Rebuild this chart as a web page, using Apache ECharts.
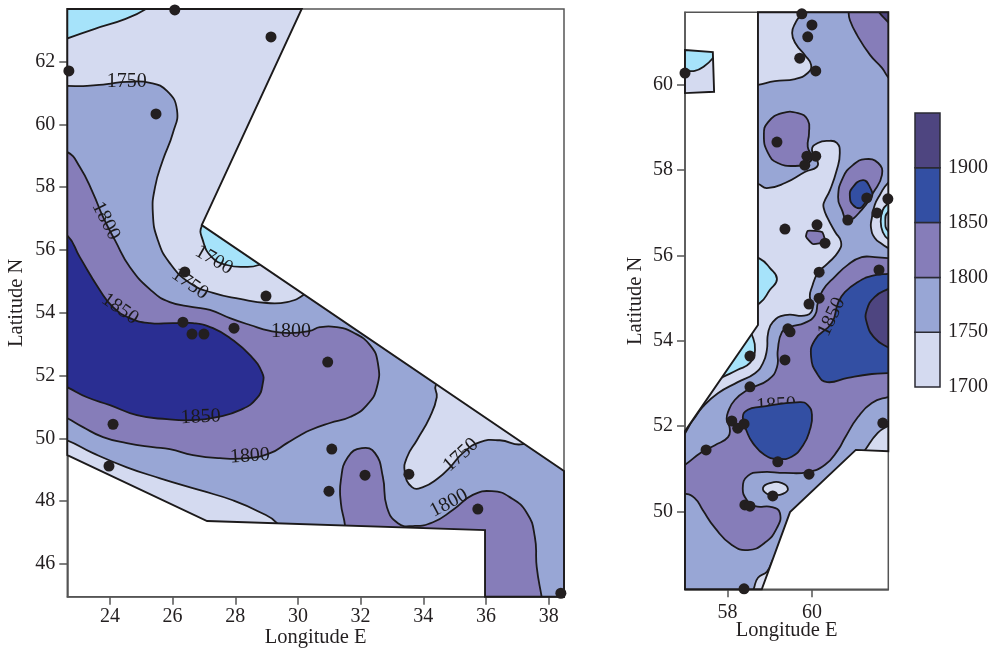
<!DOCTYPE html>
<html><head><meta charset="utf-8">
<style>html,body{margin:0;padding:0;background:#fff}#c{width:994px;height:648px}</style>
<script src="https://cdn.jsdelivr.net/npm/echarts@6/dist/echarts.min.js"></script>
</head><body><div id="c"></div>
<script>
const xTicksL=[24,26,28,30,32,34,36,38], yTicksL=[46,48,50,52,54,56,58,60,62];
const xTicksR=[58,60], yTicksR=[50,52,54,56,58,60];
const legendBreaks=[1700,1750,1800,1850,1900,1950], legendLabels=[1700,1750,1800,1850,1900];

const domainL=[[22.64,63.67],[30.12,63.67],[26.93,56.79],[38.49,48.96],[38.49,44.96],[35.97,44.96],[35.97,47.08],[27.10,47.37],[22.64,49.47]];
const domainR=[[58.72,61.705],[61.81,61.705],[61.81,51.41],[61.04,51.44],[59.48,49.98],[58.81,48.17],[56.99,48.17],[56.99,51.88],[58.72,54.37]];
const domainI=[[56.99,60.82],[57.65,60.77],[57.68,59.84],[56.99,59.81]];

const lCyanTop=[[22.09,62.56],[22.63,62.73],[23.52,63.04],[24.48,63.35],[25.15,63.67],[25.60,64.05],[22.09,64.12]];
const lCyanSouth=[[26.93,56.76],[26.96,56.32],[27.25,55.77],[27.73,55.52],[28.37,55.46],[28.75,55.52],[29.17,55.74],[27.99,57.27],[27.35,57.21]];
const lBand1750=[[22.09,61.22],[22.63,61.22],[23.27,61.22],[23.90,61.28],[24.54,61.35],[25.28,61.32],[25.82,61.06],[26.14,60.46],[26.01,59.72],[25.69,58.86],[25.44,58.00],[25.37,57.17],[25.53,56.31],[25.91,55.58],[26.55,54.95],[27.29,54.63],[28.15,54.44],[29.01,54.31],[29.65,54.34],[30.16,54.56],[30.70,55.04],[39.63,48.67],[40.27,43.58],[29.58,46.76],[29.33,47.30],[28.79,47.65],[27.92,48.03],[26.87,48.35],[25.60,48.73],[24.54,49.08],[23.46,49.53],[22.63,49.94],[22.09,50.07]];
const lLightEast=[[34.40,51.70],[34.43,51.31],[34.21,50.68],[33.80,49.95],[33.48,49.40],[33.41,48.93],[33.64,48.45],[33.99,48.45],[34.47,48.73],[34.85,49.08],[35.26,49.53],[35.81,49.88],[36.44,49.94],[37.18,49.82],[37.88,50.26],[34.85,52.17]];
const lBand1800=[[22.09,59.12],[22.63,59.12],[23.04,58.64],[23.46,57.81],[23.78,57.05],[24.16,56.31],[24.64,55.45],[25.34,54.69],[25.91,54.34],[26.65,54.18],[27.19,54.09],[27.83,53.83],[28.47,53.61],[29.11,53.42],[29.74,53.35],[30.38,53.42],[30.70,53.54],[31.24,53.54],[31.75,53.38],[32.30,52.97],[32.55,52.40],[32.52,51.63],[32.20,51.06],[31.66,50.68],[31.02,50.49],[30.38,50.26],[30.06,50.09],[29.65,49.85],[29.11,49.53],[28.37,49.37],[27.51,49.37],[26.65,49.47],[25.91,49.66],[25.37,49.72],[24.54,49.85],[23.78,50.04],[23.14,50.36],[22.63,50.65],[22.09,50.90]];
const lBand1850=[[22.09,56.70],[22.63,56.47],[23.04,55.77],[23.68,54.72],[24.10,54.18],[24.64,53.83],[25.28,53.67],[26.01,53.67],[26.65,53.67],[27.29,53.51],[27.92,53.13],[28.47,52.65],[28.85,52.11],[28.88,51.76],[28.69,51.28],[28.15,50.90],[27.41,50.68],[26.65,50.58],[25.82,50.61],[24.86,50.74],[24.00,51.06],[23.27,51.31],[22.63,51.63],[22.09,51.86]];
const lLobeSouth=[[31.50,46.92],[31.50,47.24],[31.37,47.94],[31.37,48.67],[31.59,49.40],[32.04,49.69],[32.46,49.53],[32.71,48.77],[32.84,47.81],[33.19,47.30],[33.67,47.21],[34.31,47.33],[34.94,47.72],[35.58,48.20],[36.19,48.32],[36.76,48.13],[37.31,47.62],[37.56,46.86],[37.62,45.90],[37.78,44.94],[37.88,44.37],[35.49,44.37],[35.49,46.60]];

const rLightA=[[58.29,59.93],[58.72,60.00],[59.12,60.09],[59.60,60.14],[59.90,60.28],[59.98,60.47],[59.83,60.70],[59.62,60.96],[59.53,61.22],[59.62,61.48],[59.76,61.71],[59.83,62.11],[58.29,62.11]];
const rLightB=[[58.29,57.77],[58.72,57.68],[58.93,57.58],[59.36,57.70],[59.83,57.96],[60.14,58.12],[60.00,58.48],[60.14,58.64],[60.38,58.69],[60.59,58.64],[60.66,58.40],[60.59,58.01],[60.43,57.54],[60.28,57.23],[60.28,57.11],[60.36,56.90],[60.55,56.55],[60.69,56.32],[60.62,56.08],[60.38,55.82],[60.14,55.59],[60.00,55.26],[59.95,55.03],[60.02,54.77],[59.88,54.60],[59.36,54.60],[59.07,54.44],[58.96,54.18],[58.93,53.78],[58.84,53.48],[58.65,53.24],[58.24,53.03],[57.77,52.77],[57.41,52.45],[57.18,52.14],[56.87,51.79],[56.39,52.61],[58.29,54.96]];
const rCyanIsland=[[56.99,60.35],[57.22,60.33],[57.46,60.45],[57.65,60.63],[57.86,60.94],[56.75,61.05],[56.75,60.38]];
const rCyanEdge=[[58.41,56.01],[58.77,55.92],[59.00,55.71],[59.17,55.45],[59.00,55.19],[58.77,54.89],[58.41,54.72]];
const rCyanLower=[[58.41,54.44],[58.58,54.13],[58.65,53.78],[58.53,53.48],[58.24,53.32],[57.89,53.15],[57.53,52.97],[57.34,53.55]];
const rLightRing=[[62.09,57.89],[61.80,57.70],[61.61,57.42],[61.49,57.19],[61.42,56.88],[61.40,56.65],[61.49,56.41],[61.66,56.27],[61.80,56.18],[62.09,56.02]];
const rCyanRing=[[62.09,57.42],[61.80,57.21],[61.68,57.07],[61.63,56.79],[61.68,56.55],[61.80,56.39],[62.09,56.25]];
const rLightInner=[[62.09,57.19],[61.80,57.02],[61.74,56.79],[61.80,56.58],[62.09,56.36]];
const rLightSE=[[62.09,52.14],[61.80,52.00],[61.56,51.84],[61.26,51.44],[61.02,51.09],[62.09,50.97]];
const rLightS=[[58.53,47.92],[58.62,48.18],[58.72,48.44],[58.93,48.58],[59.12,48.86],[59.48,48.15],[59.12,47.92]];
const rBand1800=[[62.09,55.94],[61.80,55.94],[61.49,55.96],[61.18,55.96],[60.85,55.78],[60.54,55.50],[60.26,55.19],[60.14,54.89],[60.07,54.60],[59.83,54.42],[59.48,54.32],[59.29,54.21],[59.19,53.78],[59.17,53.38],[58.96,53.08],[58.48,52.85],[58.17,52.61],[58.01,52.33],[57.98,52.14],[58.05,51.95],[58.01,51.74],[57.70,51.55],[57.39,51.39],[56.99,51.09],[56.63,50.85],[56.63,50.41],[56.99,50.41],[57.22,50.31],[57.41,50.03],[57.70,49.61],[58.10,49.21],[58.48,49.09],[58.88,49.26],[59.17,49.61],[59.24,49.96],[59.05,50.10],[58.65,50.12],[58.46,50.26],[58.36,50.55],[58.48,50.83],[58.81,50.92],[59.36,50.90],[59.90,50.92],[60.31,51.09],[60.62,51.44],[60.78,51.72],[61.09,52.21],[61.42,52.54],[61.80,52.68],[62.09,52.73]];
const rLightHole=[[58.84,50.55],[59.00,50.66],[59.29,50.66],[59.43,50.52],[59.31,50.41],[59.12,50.38],[58.93,50.41]];
const rBand1850E=[[62.09,55.57],[61.80,55.57],[61.42,55.52],[61.09,55.38],[60.78,55.14],[60.62,54.89],[60.47,54.42],[60.07,54.02],[59.98,53.62],[60.14,53.20],[60.36,53.03],[60.85,53.13],[61.42,53.22],[61.80,53.24],[62.09,53.24]];
const rBand1900=[[62.09,55.31],[61.80,55.21],[61.49,55.03],[61.30,54.72],[61.30,54.42],[61.49,54.06],[61.80,53.85],[62.09,53.74]];
const rBand1850S=[[58.36,52.21],[58.48,52.38],[58.77,52.45],[59.71,52.56],[59.90,52.49],[60.00,52.26],[59.95,51.91],[59.79,51.55],[59.52,51.28],[59.19,51.23],[58.88,51.32],[58.60,51.60],[58.46,51.86]];
const rBand1800NE=[[60.87,62.11],[60.87,61.71],[60.90,61.52],[61.07,61.17],[61.38,60.70],[61.66,60.40],[61.80,60.19],[62.09,59.88],[62.09,62.11]];
const rBand1900NE=[[61.49,61.88],[61.59,61.71],[61.80,61.48],[62.09,61.17],[62.09,61.99]];
const rLobeN=[[58.86,58.83],[58.96,59.13],[59.29,59.34],[59.67,59.34],[59.90,59.18],[59.93,58.87],[59.90,58.55],[60.00,58.29],[59.90,58.17],[59.60,58.10],[59.19,58.17],[58.96,58.40]];
const rOval=[[60.97,58.12],[61.26,58.26],[61.57,58.17],[61.66,57.89],[61.45,57.47],[61.18,57.07],[60.85,56.83],[60.71,57.07],[60.62,57.37],[60.74,57.84]];
const rOvalCore=[[60.90,57.37],[60.95,57.58],[61.21,57.77],[61.37,57.61],[61.42,57.37],[61.26,57.23],[61.14,57.11],[60.97,57.19]];
const rSpeck=[[59.86,56.44],[59.90,56.58],[60.24,56.55],[60.31,56.32],[60.02,56.27]];

const pointsL=[[26.07,63.64],[29.14,62.78],[22.69,61.70],[25.47,60.33],[26.39,55.30],[28.98,54.53],[26.33,53.70],[26.62,53.32],[27.00,53.32],[27.96,53.51],[30.95,52.43],[24.10,50.45],[23.97,49.12],[31.08,49.66],[32.14,48.83],[30.99,48.32],[33.54,48.86],[35.74,47.75],[38.39,45.07]];
const pointsR=[[59.76,61.67],[60.00,61.41],[59.90,61.13],[59.71,60.63],[60.09,60.33],[59.17,58.66],[59.88,58.33],[60.09,58.33],[59.83,58.12],[61.30,57.35],[61.80,57.33],[61.54,57.00],[60.85,56.83],[56.99,60.28],[59.36,56.62],[60.12,56.72],[60.31,56.29],[60.17,55.61],[61.59,55.66],[60.17,55.00],[59.93,54.86],[59.43,54.28],[59.48,54.21],[59.36,53.55],[58.53,53.64],[58.53,52.92],[58.10,52.12],[58.24,51.95],[58.39,52.05],[57.49,51.44],[59.19,51.16],[59.93,50.87],[61.68,52.07],[59.07,50.36],[58.41,50.15],[58.53,50.12],[58.39,48.18]];

const labelsL=[[24.54,61.35,'1750',0],[23.87,56.92,'1800',-63],[27.32,55.68,'1700',-30],[26.55,54.92,'1750',-35],[24.32,54.12,'1850',-35],[29.78,53.39,'1800',0],[26.90,50.68,'1850',3],[28.47,49.44,'1800',4],[35.20,49.47,'1750',42],[34.82,47.94,'1800',28]];
const labelsR=[[60.47,54.56,'1850',65]];
const hiddenLabelR=[[59.15,52.49,'1850',3]];

const cLight='#d4daf0',cCyan='#a6e3fa',cMid='#98a6d5',cPurple='#867db9',cDeep='#2a2e92',cBlue='#334fa3',cDark='#4e4580';
const legendColors=[cLight,cMid,cPurple,cBlue,cDark];
const serif='"Liberation Serif","Times New Roman",serif';
const lineCol='#1c1a1b';

const layersL=[[domainL,cLight,0],[lCyanTop,cCyan,.5],[lCyanSouth,cCyan,.5],[lBand1750,cMid,.5],[lLightEast,cLight,.5],[lBand1800,cPurple,.5],[lBand1850,cDeep,.5],[lLobeSouth,cPurple,.5]];
const layersR=[[domainR,cMid,0],[rLightA,cLight,.5],[rLightB,cLight,.5],[rCyanEdge,cCyan,.5],[rCyanLower,cCyan,.5],[rLightRing,cLight,.5],[rCyanRing,cCyan,.5],[rLightInner,cLight,.5],[rLightSE,cLight,.5],[rLightS,cLight,.5],[rBand1800,cPurple,.5],[rLightHole,cLight,.5],[rBand1850E,cBlue,.5],[rBand1900,cDark,.5],[rBand1800NE,cPurple,.5],[rBand1900NE,cDark,.5],[rLobeN,cPurple,.5],[rOval,cPurple,.5],[rOvalCore,cBlue,.5],[rSpeck,cPurple,.15]];
const layersRTop=[[rBand1850S,cBlue,.5]];
const layersI=[[domainI,cLight,0],[rCyanIsland,cCyan,.5]];

function toPx(api,pts){return pts.map(p=>api.coord(p));}
function layerSeries(layers,dom,idx,z){
  return {type:'custom',xAxisIndex:idx,yAxisIndex:idx,clip:false,silent:true,z:z||2,
    data:layers.map((l,i)=>[i]),
    encode:{x:-1,y:-1},
    renderItem(params,api){
      const l=layers[params.dataIndex];
      const isBase=l[2]===0;
      return {type:'polygon',z2:params.dataIndex*2,
        shape:{points:toPx(api,l[0]),smooth:l[2]},
        clipPath:{type:'polygon',shape:{points:toPx(api,dom)}},
        style:{fill:l[1],stroke:isBase?null:lineCol,lineWidth:1.8}};
    }};
}
function outlineSeries(dom,idx){
  return {type:'custom',xAxisIndex:idx,yAxisIndex:idx,clip:false,silent:true,z:4,data:[[0]],encode:{x:-1,y:-1},
    renderItem(p,api){return {type:'polygon',shape:{points:toPx(api,dom)},style:{fill:'none',stroke:lineCol,lineWidth:1.9}};}};
}
function labelSeries(labels,idx,z){
  return {type:'custom',xAxisIndex:idx,yAxisIndex:idx,clip:false,silent:true,z:z,data:labels.map((l,i)=>[i]),encode:{x:-1,y:-1},
    renderItem(p,api){const l=labels[p.dataIndex];const c=api.coord([l[0],l[1]]);
      return {type:'text',x:c[0],y:c[1],rotation:l[3]*Math.PI/180,
        style:{text:l[2],fill:'#1c1a1b',font:'20px '+serif,align:'center',verticalAlign:'middle'}};}};
}
function pointSeries(pts,idx){
  return {type:'scatter',xAxisIndex:idx,yAxisIndex:idx,clip:false,silent:true,z:6,symbolSize:11,data:pts,itemStyle:{color:'#231f20',opacity:1}};
}
const plain=v=>String(v);
function axis(extra){
  return Object.assign({type:'value',nameLocation:'middle',nameMoveOverlap:false,splitLine:{show:false},
    axisLine:{show:true,onZero:false,lineStyle:{color:'#555',width:1.5}},
    axisTick:{show:true,inside:false,length:8,lineStyle:{color:'#555',width:1.5}},
    axisLabel:{color:'#231f20',fontFamily:serif,fontSize:20,formatter:plain},
    nameTextStyle:{color:'#231f20',fontFamily:serif,fontSize:20.5}},extra);
}
function xA(min,max,ticks,gap,margin,g){const a=axis({gridIndex:g,min,max,name:'Longitude E',nameGap:gap});a.axisTick.customValues=ticks;a.axisLabel=Object.assign({},a.axisLabel,{customValues:ticks,margin});return a;}
function yA(min,max,ticks,gap,g){const a=axis({gridIndex:g,min,max,name:'Latitude N',nameGap:gap});a.axisTick.customValues=ticks;a.axisLabel=Object.assign({},a.axisLabel,{customValues:ticks,margin:12});return a;}

const option={animation:false,backgroundColor:'#fff',
 grid:[
  {left:67.3,top:9,width:496.7,height:587.7,show:true,borderColor:'#555',borderWidth:1.5,backgroundColor:'#fff',outerBoundsMode:'none'},
  {left:685,top:12.3,width:203.3,height:577,show:true,borderColor:'#555',borderWidth:1.5,backgroundColor:'#fff',outerBoundsMode:'none'},
  {left:915,top:113,width:25,height:274,outerBoundsMode:'none'}],
 xAxis:[xA(22.64,38.49,xTicksL,30,10,0),xA(56.99,61.81,xTicksR,31,13,1),
  {type:'value',gridIndex:2,min:0,max:1,show:false}],
 yAxis:[yA(44.96,63.67,yTicksL,40,0),yA(48.17,61.705,yTicksR,39,1),
  {type:'value',gridIndex:2,min:1700,max:1950,interval:50,position:'right',splitLine:{show:false},
   axisLine:{show:false},axisTick:{show:false},
   axisLabel:{customValues:legendLabels,formatter:plain,color:'#231f20',fontFamily:serif,fontSize:20,margin:8}}],
 series:[]
};
option.series=[
 layerSeries(layersL,domainL,0),outlineSeries(domainL,0),labelSeries(labelsL,0,5),pointSeries(pointsL,0),
 layerSeries(layersR,domainR,1),layerSeries(layersI,domainI,1),
 labelSeries(hiddenLabelR,1,2.5),layerSeries(layersRTop,domainR,1,3),
 outlineSeries(domainR,1),outlineSeries(domainI,1),labelSeries(labelsR,1,5),pointSeries(pointsR,1),
 {type:'custom',xAxisIndex:2,yAxisIndex:2,clip:false,silent:true,z:3,data:legendColors.map((c,i)=>[i]),encode:{x:-1,y:-1},
  renderItem(p,api){const i=p.dataIndex;const a=api.coord([0,legendBreaks[i+1]]),b=api.coord([1,legendBreaks[i]]);
   return {type:'rect',shape:{x:a[0],y:a[1],width:b[0]-a[0],height:b[1]-a[1]},style:{fill:legendColors[i],stroke:'#2a2a33',lineWidth:1.5}};}}
];
const chart=echarts.init(document.getElementById('c'),null,{renderer:'canvas'});
chart.setOption(option);
</script>
</body></html>
